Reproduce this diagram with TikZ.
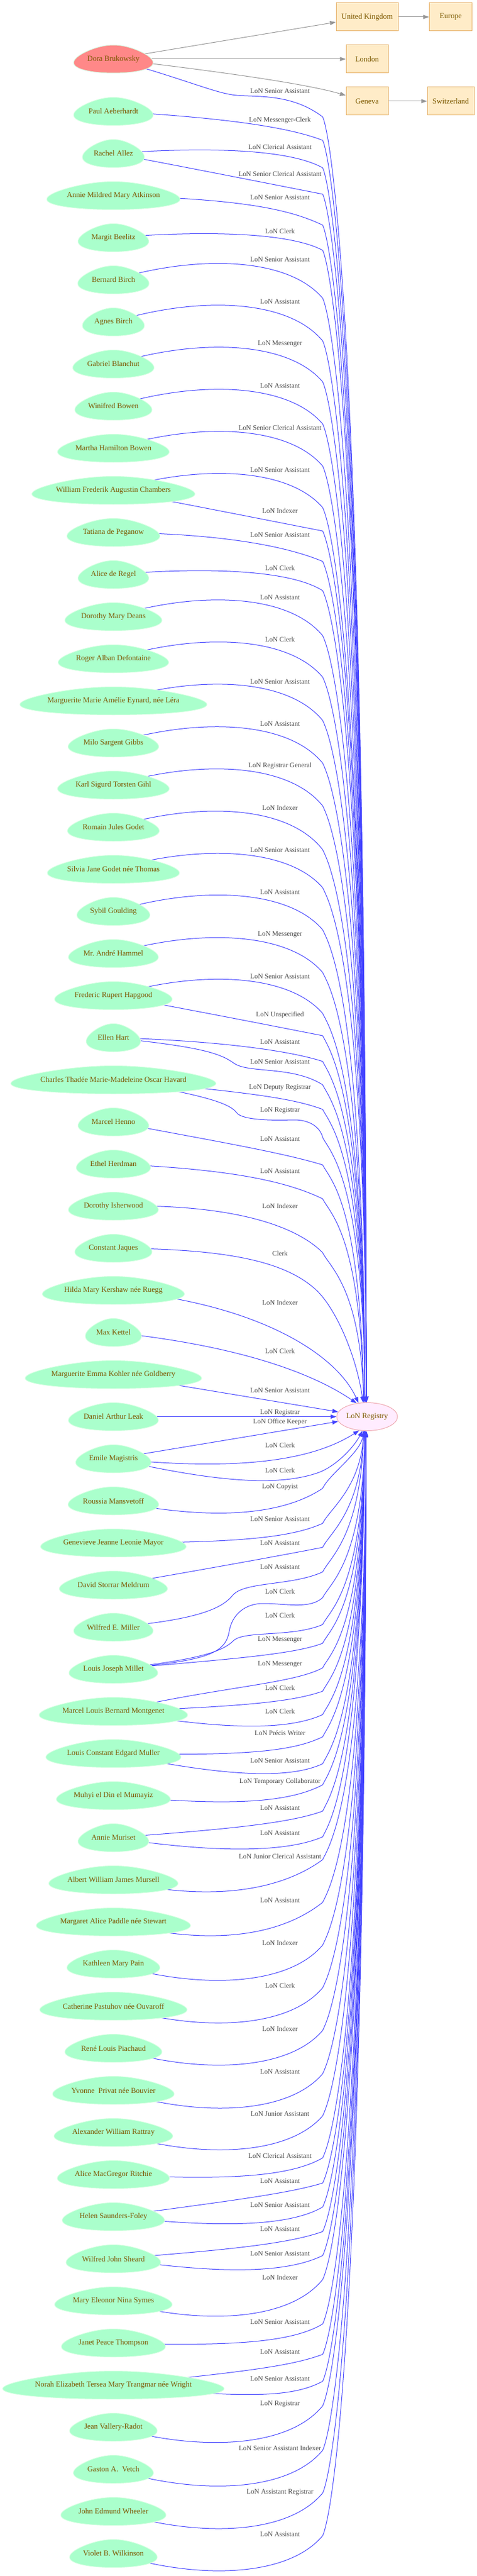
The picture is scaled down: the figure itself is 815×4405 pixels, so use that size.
\documentclass[tikz,border=0pt]{standalone}
\usepackage{fontspec}
\setmainfont{Liberation Serif}
\usetikzlibrary{arrows.meta,shapes.geometric}

\definecolor{lonblue}{RGB}{68,68,255}
\definecolor{geogray}{RGB}{150,150,150}
\definecolor{mint}{RGB}{170,255,204}
\definecolor{mintline}{RGB}{214,255,226}
\definecolor{dorared}{RGB}{255,136,136}
\definecolor{regfill}{RGB}{255,236,255}
\definecolor{regline}{RGB}{238,168,176}
\definecolor{boxfill}{RGB}{255,236,200}
\definecolor{boxline}{RGB}{230,178,108}
\definecolor{nametext}{RGB}{125,88,0}
\definecolor{labeltext}{RGB}{72,72,72}

\pgfdeclarelayer{back}
\pgfsetlayers{back,main}

\tikzset{
  person/.style={ellipse, minimum height=48pt, inner sep=0pt, text=nametext, font=\fontsize{13}{15}\selectfont},
  geobox/.style={rectangle, draw=boxline, fill=boxfill, line width=1pt, minimum height=48pt, inner sep=0pt, text=nametext, font=\fontsize{13}{15}\selectfont},
  registry/.style={ellipse, draw=regline, fill=regfill, line width=1pt, minimum width=104pt, minimum height=48pt, inner sep=0pt, text=nametext, font=\fontsize{13}{15}\selectfont},
  egg/.style={fill=mint, draw=mintline, line width=1pt},
  lonlabel/.style={inner sep=0pt, text=labeltext, font=\fontsize{11.8}{14}\selectfont},
  lonedge/.style={draw=lonblue, line width=1pt, -{Triangle[length=10pt,width=7pt]}},
  geoedge/.style={draw=geogray, line width=1pt, -{Triangle[length=10pt,width=7pt]}},
}

\begin{document}
\begin{tikzpicture}[x=1pt, y=-1pt]
    \useasboundingbox (0,0) rectangle (815,4405);
    \begin{pgfonlayer}{back}
        \fill[white] (0,0) rectangle (815,4405);
    \end{pgfonlayer}

    % ---places
    \node[geobox, minimum width=106pt] (uk) at (628,29) {United Kingdom};
    \node[geobox, minimum width=73pt] (europe) at (771,29) {Europe};
    \node[geobox, minimum width=72pt] (london) at (628,101) {London};
    \node[geobox, minimum width=72pt] (geneva) at (628,173) {Geneva};
    \node[geobox, minimum width=80pt] (switz) at (771,173) {Switzerland};

    % ---registry
    \node[registry] (reg) at (628,2422.5) {LoN Registry};

    % ---people
    \filldraw[egg, fill=dorared] plot[domain=0:360, samples=73, variable=\t]
        ({194+136/2.082*cos(\t)*(1+0.3*sin(\t))}, {101+24*sin(\t)}) -- cycle;
    \node[person, minimum width=136pt] (dora) at (194,101) {Dora Brukowsky};

    \foreach \nm/\ew/\txt [count=\i] in {
        aeberhardt/136/Paul Aeberhardt,
        allez/106/Rachel Allez,
        atkinson/228/Annie Mildred Mary Atkinson,
        beelitz/121/Margit Beelitz,
        bbirch/122/Bernard Birch,
        abirch/106/Agnes Birch,
        blanchut/139/Gabriel Blanchut,
        wbowen/132/Winifred Bowen,
        mbowen/191/Martha Hamilton Bowen,
        chambers/279/William Frederik Augustin Chambers,
        peganow/159/Tatiana de Peganow,
        regel/121/Alice de Regel,
        deans/166/Dorothy Mary Deans,
        defontaine/189/Roger Alban Defontaine,
        eynard/320/{Marguerite Marie Amélie Eynard, née Léra},
        gibbs/155/Milo Sargent Gibbs,
        gihl/191/Karl Sigurd Torsten Gihl,
        rgodet/157/Romain Jules Godet,
        sgodet/226/Silvia Jane Godet née Thomas,
        goulding/125/Sybil Goulding,
        hammel/154/Mr.\ André Hammel,
        hapgood/201/Frederic Rupert Hapgood,
        hart/93/Ellen Hart,
        havard/351/Charles Thadée Marie-Madeleine Oscar Havard,
        henno/121/Marcel Henno,
        herdman/127/Ethel Herdman,
        isherwood/154/Dorothy Isherwood,
        jaques/132/Constant Jaques,
        kershaw/243/Hilda Mary Kershaw née Ruegg,
        kettel/96/Max Kettel,
        kohler/302/Marguerite Emma Kohler née Goldberry,
        leak/154/Daniel Arthur Leak,
        magistris/129/Emile Magistris,
        mansvetoff/155/Roussia Mansvetoff,
        mayor/249/Genevieve Jeanne Leonie Mayor,
        meldrum/185/David Storrar Meldrum,
        miller/136/Wilfred E. Miller,
        millet/152/Louis Joseph Millet,
        montgenet/254/Marcel Louis Bernard Montgenet,
        muller/231/Louis Constant Edgard Muller,
        mumayiz/195/Muhyi el Din el Mumayiz,
        muriset/121/Annie Muriset,
        mursell/221/Albert William James Mursell,
        paddle/264/Margaret Alice Paddle née Stewart,
        pain/159/Kathleen Mary Pain,
        pastuhov/252/Catherine Pastuhov née Ouvaroff,
        piachaud/166/René Louis Piachaud,
        privat/208/Yvonne~~Privat née Bouvier,
        rattray/203/Alexander William Rattray,
        ritchie/192/Alice MacGregor Ritchie,
        saunders/175/Helen Saunders-Foley,
        sheard/162/Wilfred John Sheard,
        symes/201/Mary Eleonor Nina Symes,
        thompson/178/Janet Peace Thompson,
        trangmar/379/Norah Elizabeth Tersea Mary Trangmar née Wright,
        vallery/150/Jean Vallery-Radot,
        vetch/137/Gaston A.~~Vetch,
        wheeler/180/John Edmund Wheeler,
        wilkinson/150/Violet B. Wilkinson}{
        \pgfmathsetmacro\yy{118.5+72*\i}
        \filldraw[egg] plot[domain=0:360, samples=73, variable=\t]
            ({194+\ew/2.082*cos(\t)*(1+0.3*sin(\t))}, {\yy+24*sin(\t)}) -- cycle;
        \node[person, minimum width=\ew pt] (\nm) at (194,\yy) {\txt};
    }

    % ---job labels
    \foreach \ly/\lt [count=\j] in {
        155.7/LoN Senior Assistant, 205.7/LoN Messenger-Clerk, 251.7/LoN Clerical Assistant,
        297.7/LoN Senior Clerical Assistant, 337.7/LoN Senior Assistant, 395.7/LoN Clerk,
        443.7/LoN Senior Assistant, 515.7/LoN Assistant, 587.7/LoN Messenger,
        659.7/LoN Assistant, 731/LoN Senior Clerical Assistant, 803.7/LoN Senior Assistant,
        873.7/LoN Indexer, 914.7/LoN Senior Assistant, 971.3/LoN Clerk,
        1021.7/LoN Assistant, 1093.3/LoN Clerk, 1165.7/LoN Senior Assistant,
        1237.7/LoN Assistant, 1309.7/LoN Registrar General, 1381.7/LoN Indexer,
        1453.7/LoN Senior Assistant, 1525.7/LoN Assistant, 1597.7/LoN Messenger,
        1669.7/LoN Senior Assistant, 1735.7/LoN Unspecified, 1781.7/LoN Assistant,
        1815.7/LoN Senior Assistant, 1859.7/LoN Deputy Registrar, 1898.7/LoN Registrar,
        1947.7/LoN Assistant, 2002.7/LoN Assistant, 2062.7/LoN Indexer,
        2143.3/Clerk, 2227.7/LoN Indexer, 2310.7/LoN Clerk,
        2377.7/LoN Senior Assistant, 2415.7/LoN Registrar, 2431.7/LoN Office Keeper,
        2471.7/LoN Clerk, 2514.3/LoN Clerk, 2542.7/LoN Copyist,
        2597.7/LoN Senior Assistant, 2638.7/LoN Assistant, 2679.7/LoN Assistant,
        2721.7/LoN Clerk, 2762.7/LoN Clerk, 2803.7/LoN Messenger,
        2845.7/LoN Messenger, 2886.7/LoN Clerk, 2926.7/LoN Clerk,
        2963.7/LoN Précis Writer, 3010.7/LoN Senior Assistant, 3046.7/LoN Temporary Collaborator,
        3091.7/LoN Assistant, 3134.7/LoN Assistant, 3174.7/LoN Junior Clerical Assistant,
        3249.7/LoN Assistant, 3322.7/LoN Indexer, 3395.7/LoN Clerk,
        3469.7/LoN Indexer, 3542.7/LoN Assistant, 3614.7/LoN Junior Assistant,
        3686.7/LoN Clerical Assistant, 3729.7/LoN Assistant, 3770.7/LoN Senior Assistant,
        3811.7/LoN Assistant, 3853.7/LoN Senior Assistant, 3894.7/LoN Indexer,
        3970.7/LoN Senior Assistant, 4021.7/LoN Assistant, 4067.7/LoN Senior Assistant,
        4110.7/LoN Registrar, 4186.7/LoN Senior Assistant Indexer, 4261.7/LoN Assistant Registrar,
        4333.7/LoN Assistant}{
        \node[lonlabel] (lab\j) at (479,\ly) {\lt};
    }

    \begin{pgfonlayer}{back}
        % ---places
        \draw[geoedge] (dora.center) -- (uk);
        \draw[geoedge] (dora.center) -- (london);
        \draw[geoedge] (dora.center) .. controls (400,125) and (530,145) .. (geneva.165);
        \draw[geoedge] (uk) -- (europe);
        \draw[geoedge] (geneva) -- (switz);

        % ---into the registry from above
        \draw[lonedge] (dora.center) .. controls (330,140) and (370,160) .. (405,163) .. controls (440,166) and (500,160) .. (552,200) .. controls +(12,25) and (625,530) .. (reg.93);
        \draw[lonedge] (aeberhardt.center) .. controls (340,199) and (480,212) .. (552,240) .. controls +(12,25) and (625,564) .. (reg.93);
        \draw[lonedge] (allez.center) .. controls (330,252) and (490,252) .. (552,287) .. controls +(12,25) and (625,604) .. (reg.93);
        \draw[lonedge] (allez.center) .. controls (350,292) and (470,316) .. (552,332) .. controls +(12,25) and (625,642) .. (reg.93);
        \draw[lonedge] (atkinson.center) .. controls (400,340) and (490,355) .. (552,385) .. controls +(12,25) and (625,687) .. (reg.93);
        \draw[lonedge] (beelitz.center) .. controls (330,395) and (490,395) .. (552,428) .. controls +(12,25) and (625,724) .. (reg.93);
        \draw[lonedge] (bbirch.center) .. controls (330,437) and (490,437) .. (552,510) .. controls +(12,25) and (625,793) .. (reg.93);
        \draw[lonedge] (abirch.center) .. controls (330,508) and (490,508) .. (552,583) .. controls +(12,25) and (625,855) .. (reg.93);
        \draw[lonedge] (blanchut.center) .. controls (330,580) and (490,580) .. (552,653) .. controls +(12,25) and (625,915) .. (reg.93);
        \draw[lonedge] (wbowen.center) .. controls (330,652) and (490,652) .. (552,725) .. controls +(12,25) and (625,976) .. (reg.93);
        \draw[lonedge] (mbowen.center) .. controls (330,724) and (490,724) .. (552,797) .. controls +(12,25) and (625,1037) .. (reg.93);
        \draw[lonedge] (chambers.center) .. controls (330,796) and (490,796) .. (552,868) .. controls +(12,25) and (625,1098) .. (reg.93);
        \draw[lonedge] (chambers.center) .. controls (380,874) and (480,894) .. (552,908) .. controls +(12,25) and (625,1132) .. (reg.93);
        \draw[lonedge] (peganow.center) .. controls (360,912) and (480,930) .. (552,960) .. controls +(12,25) and (625,1176) .. (reg.93);
        \draw[lonedge] (regel.center) .. controls (330,971) and (490,971) .. (552,1010) .. controls +(12,25) and (625,1218) .. (reg.93);
        \draw[lonedge] (deans.center) .. controls (330,1012) and (490,1012) .. (552,1087) .. controls +(12,25) and (625,1284) .. (reg.93);
        \draw[lonedge] (defontaine.center) .. controls (330,1084) and (490,1084) .. (552,1158) .. controls +(12,25) and (625,1344) .. (reg.93);
        \draw[lonedge] (eynard.center) .. controls (330,1156) and (490,1156) .. (552,1232) .. controls +(12,25) and (625,1407) .. (reg.93);
        \draw[lonedge] (gibbs.center) .. controls (330,1229) and (490,1229) .. (552,1305) .. controls +(12,25) and (625,1469) .. (reg.93);
        \draw[lonedge] (gihl.center) .. controls (330,1301) and (490,1301) .. (552,1378) .. controls +(12,25) and (625,1531) .. (reg.93);
        \draw[lonedge] (rgodet.center) .. controls (330,1373) and (490,1373) .. (552,1453) .. controls +(12,25) and (625,1595) .. (reg.93);
        \draw[lonedge] (sgodet.center) .. controls (330,1446) and (490,1446) .. (552,1518) .. controls +(12,25) and (625,1650) .. (reg.93);
        \draw[lonedge] (goulding.center) .. controls (330,1517) and (490,1517) .. (552,1590) .. controls +(12,25) and (621,1711) .. (reg.98);
        \draw[lonedge] (hammel.center) .. controls (330,1590) and (490,1590) .. (552,1663) .. controls +(12,25) and (621,1773) .. (reg.98);
        \draw[lonedge] (hapgood.center) .. controls (330,1661) and (490,1661) .. (552,1733) .. controls +(12,25) and (621,1833) .. (reg.98);
        \draw[lonedge] (hapgood.center) .. controls (380,1737) and (480,1757) .. (552,1771) .. controls +(12,25) and (621,1865) .. (reg.98);
        \draw[lonedge] (hart.center) .. controls (360,1779) and (490,1795) .. (552,1815) .. controls +(12,25) and (621,1902) .. (reg.98);
        \draw[lonedge] (hart.center) .. controls (340,1790) and (375,1800) .. (400,1818) .. controls (425,1836) and (500,1822) .. (552,1855) .. controls +(12,25) and (621,1936) .. (reg.98);
        \draw[lonedge] (havard.center) .. controls (430,1868) and (500,1878) .. (552,1897) .. controls +(12,25) and (621,1972) .. (reg.98);
        \draw[lonedge] (havard.center) .. controls (370,1875) and (395,1890) .. (405,1903) .. controls (415,1916) and (470,1916) .. (500,1915) .. controls (530,1914) and (548,1928) .. (552,1945) .. controls +(12,25) and (621,2013) .. (reg.98);
        \draw[lonedge] (henno.center) .. controls (360,1950) and (480,1970) .. (552,1992) .. controls +(12,25) and (616,2053) .. (reg.103);
        \draw[lonedge] (herdman.center) .. controls (370,1998) and (480,2015) .. (552,2050) .. controls +(12,25) and (616,2110) .. (reg.103);
        \draw[lonedge] (isherwood.center) .. controls (380,2058) and (500,2090) .. (552,2142) .. controls +(12,25) and (616,2202) .. (reg.103);
        \draw[lonedge] (jaques.center) .. controls (400,2135) and (490,2160) .. (540,2205) .. controls (575,2237) and (610,2320) .. (reg.106);
        \draw[lonedge] (kershaw.center) .. controls (440,2228) and (575,2315) .. (reg.122);
        \draw[lonedge] (kettel.center) .. controls (400,2300) and (530,2345) .. (reg.128);
        \draw[lonedge] (kohler.center) -- (reg);
        \draw[lonedge] (leak.center) -- (reg);

        % ---into the registry from below
        \draw[lonedge] (magistris.center) -- (reg);
        \draw[lonedge] (magistris.center) .. controls (400,2515) and (530,2500) .. (reg.-120);
        \draw[lonedge] (magistris.center) .. controls (350,2530) and (470,2545) .. (545,2518) .. controls (575,2507) and (605,2475) .. (reg.-108);
        \draw[lonedge] (mansvetoff.center) .. controls (330,2595) and (470,2600) .. (552,2545) .. controls +(12,-25) and (616,2485) .. (reg.-103);
        \draw[lonedge] (mayor.center) .. controls (420,2638) and (500,2628) .. (552,2605) .. controls +(12,-25) and (616,2545) .. (reg.-103);
        \draw[lonedge] (meldrum.center) .. controls (370,2680) and (480,2660) .. (552,2646) .. controls +(12,-25) and (616,2586) .. (reg.-103);
        \draw[lonedge] (miller.center) .. controls (340,2770) and (380,2750) .. (398,2728) .. controls (418,2704) and (500,2712) .. (552,2688) .. controls +(12,-25) and (616,2628) .. (reg.-103);
        \draw[lonedge] (millet.center) .. controls (350,2840) and (385,2830) .. (392,2790) .. controls (397,2760) and (420,2742) .. (450,2742) .. controls (490,2742) and (530,2752) .. (552,2732) .. controls +(12,-25) and (620,2672) .. (reg.-99);
        \draw[lonedge] (millet.center) .. controls (340,2838) and (380,2825) .. (400,2805) .. controls (420,2788) and (500,2800) .. (552,2778) .. controls +(12,-25) and (620,2718) .. (reg.-99);
        \draw[lonedge] (millet.center) .. controls (380,2838) and (500,2830) .. (552,2810) .. controls +(12,-25) and (620,2750) .. (reg.-99);
        \draw[lonedge] (montgenet.center) .. controls (370,2885) and (500,2880) .. (552,2852) .. controls +(12,-25) and (620,2791) .. (reg.-99);
        \draw[lonedge] (montgenet.center) .. controls (420,2918) and (500,2910) .. (552,2892) .. controls +(12,-25) and (620,2825) .. (reg.-99);
        \draw[lonedge] (montgenet.center) .. controls (380,2958) and (490,2960) .. (552,2932) .. controls +(12,-25) and (620,2859) .. (reg.-99);
        \draw[lonedge] (muller.center) .. controls (420,3003) and (500,2995) .. (552,2970) .. controls +(12,-25) and (620,2891) .. (reg.-99);
        \draw[lonedge] (muller.center) .. controls (370,3035) and (490,3045) .. (552,3016) .. controls +(12,-25) and (620,2930) .. (reg.-99);
        \draw[lonedge] (mumayiz.center) .. controls (380,3088) and (490,3085) .. (552,3052) .. controls +(12,-25) and (620,2961) .. (reg.-99);
        \draw[lonedge] (muriset.center) .. controls (360,3130) and (490,3120) .. (552,3097) .. controls +(12,-25) and (620,2999) .. (reg.-99);
        \draw[lonedge] (muriset.center) .. controls (340,3165) and (480,3172) .. (552,3141) .. controls +(12,-25) and (620,3037) .. (reg.-99);
        \draw[lonedge] (mursell.center) .. controls (340,3250) and (470,3240) .. (552,3180) .. controls +(12,-25) and (624,3070) .. (reg.-94);
        \draw[lonedge] (paddle.center) .. controls (340,3325) and (470,3318) .. (552,3253) .. controls +(12,-25) and (624,3132) .. (reg.-94);
        \draw[lonedge] (pain.center) .. controls (330,3400) and (490,3400) .. (552,3326) .. controls +(12,-25) and (624,3194) .. (reg.-94);
        \draw[lonedge] (pastuhov.center) .. controls (330,3473) and (490,3473) .. (552,3399) .. controls +(12,-25) and (624,3256) .. (reg.-94);
        \draw[lonedge] (piachaud.center) .. controls (330,3545) and (490,3545) .. (552,3472) .. controls +(12,-25) and (624,3318) .. (reg.-94);
        \draw[lonedge] (privat.center) .. controls (330,3619) and (490,3619) .. (552,3546) .. controls +(12,-25) and (624,3381) .. (reg.-94);
        \draw[lonedge] (rattray.center) .. controls (330,3690) and (490,3690) .. (552,3618) .. controls +(12,-25) and (624,3442) .. (reg.-94);
        \draw[lonedge] (ritchie.center) .. controls (400,3730) and (500,3720) .. (552,3690) .. controls +(12,-25) and (624,3503) .. (reg.-94);
        \draw[lonedge] (saunders.center) .. controls (380,3765) and (490,3752) .. (552,3733) .. controls +(12,-25) and (624,3540) .. (reg.-94);
        \draw[lonedge] (saunders.center) .. controls (360,3808) and (490,3810) .. (552,3774) .. controls +(12,-25) and (624,3575) .. (reg.-94);
        \draw[lonedge] (sheard.center) .. controls (380,3848) and (490,3838) .. (552,3816) .. controls +(12,-25) and (624,3610) .. (reg.-94);
        \draw[lonedge] (sheard.center) .. controls (350,3885) and (480,3892) .. (552,3857) .. controls +(12,-25) and (624,3645) .. (reg.-94);
        \draw[lonedge] (symes.center) .. controls (330,3974) and (490,3974) .. (552,3898) .. controls +(12,-25) and (624,3680) .. (reg.-94);
        \draw[lonedge] (thompson.center) .. controls (400,4013) and (500,4005) .. (552,3974) .. controls +(12,-25) and (624,3745) .. (reg.-94);
        \draw[lonedge] (trangmar.center) .. controls (430,4055) and (500,4045) .. (552,4026) .. controls +(12,-25) and (624,3789) .. (reg.-94);
        \draw[lonedge] (trangmar.center) .. controls (420,4102) and (500,4100) .. (552,4072) .. controls +(12,-25) and (624,3828) .. (reg.-94);
        \draw[lonedge] (vallery.center) .. controls (330,4190) and (490,4190) .. (552,4114) .. controls +(12,-25) and (624,3864) .. (reg.-94);
        \draw[lonedge] (vetch.center) .. controls (330,4265) and (490,4265) .. (552,4190) .. controls +(12,-25) and (624,3928) .. (reg.-94);
        \draw[lonedge] (wheeler.center) .. controls (330,4338) and (490,4338) .. (552,4263) .. controls +(12,-25) and (624,3990) .. (reg.-94);
        \draw[lonedge] (wilkinson.center) .. controls (330,4410) and (490,4410) .. (552,4336) .. controls +(12,-25) and (624,4052) .. (reg.-94);
    \end{pgfonlayer}
\end{tikzpicture}
\end{document}
